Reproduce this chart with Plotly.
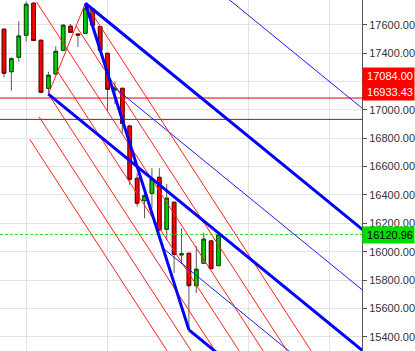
import plotly.graph_objects as go

# ---------------- data ----------------
bars = list(range(30))
opens = [17570, 17270, 17372, 17527, 17753, 17492, 17153, 17254, 17421, 17591,
         17536, 17541, 17711, 17588, 17400, 17141, 17153, 16887, 16518, 16360,
         16412, 16525, 16158, 16349, 15977, 15989, 15760, 15918, 16076, 15901]
highs = [17574, 17372, 17628, 17765, 17762, 17495, 17270, 17450, 17605, 17607,
         17541, 17753, 17720, 17593, 17403, 17200, 17156, 16894, 16553, 16459,
         16589, 16589, 16478, 16351, 16165, 15991, 16041, 16134, 16078, 16134]
lows = [17228, 17136, 17341, 17482, 17488, 17120, 17112, 17250, 17416, 17545,
        17443, 17538, 17592, 17416, 16993, 17040, 16836, 16471, 16318, 16236,
        16306, 16150, 16083, 15848, 15913, 15448, 15707, 15917, 15878, 15899]
closes = [17259, 17362, 17522, 17746, 17490, 17125, 17245, 17414, 17598, 17548,
          17529, 17718, 17598, 17421, 17146, 17153, 16906, 16511, 16342, 16395,
          16513, 16153, 16377, 15982, 15984, 15760, 15876, 16088, 15880, 16120.96]

level_lines = [17084.00, 16933.43]
last_price = 16120.96
y_ticks = [15400, 15600, 15800, 16000, 16200, 16400, 16600, 16800, 17000, 17200, 17400, 17600]
hidden_tick = 17200          # its label sits under the red price boxes
x_grid = [3, 14, 33, 44]

# pitchfork anchors (bar position, price)
red_anchors = [(4.4, 17762), (6, 17112), (11, 17753)]
blue_anchors = [(6, 17112), (11, 17753), (25, 15448)]
red_fracs = [-0.5, -0.25, 0.0, 0.25, 0.75, 1.0]
blue_thin_fracs = [-0.5, 0.25, 0.75]
blue_thick_fracs = [0.0, 1.0]

X_MIN, X_MAX = -0.54, 48.4
Y_MIN, Y_MAX = 15299, 17776


def fork_lines(anchors, fracs, x_end=70):
    a, b, c = anchors
    m = ((b[0] + c[0]) / 2, (b[1] + c[1]) / 2)
    slope = (m[1] - a[1]) / (m[0] - a[0])
    out = []
    for f in fracs:
        s = (b[0] + f * (c[0] - b[0]), b[1] + f * (c[1] - b[1]))
        out.append(([s[0], x_end], [s[1], s[1] + slope * (x_end - s[0])]))
    median = ([a[0], x_end], [a[1], a[1] + slope * (x_end - a[0])])
    seg = ([b[0], c[0]], [b[1], c[1]])
    return out, median, seg


fig = go.Figure()

# wicks
fig.add_trace(go.Candlestick(
    x=bars, open=opens, high=highs, low=lows, close=closes,
    increasing=dict(line=dict(color="#5a5a5a", width=1), fillcolor="#00cc00"),
    decreasing=dict(line=dict(color="#5a5a5a", width=1), fillcolor="#ff0000"),
    whiskerwidth=0, showlegend=False, hoverinfo="skip"))
# bodies with darker outline
body_hi = [max(o, c) for o, c in zip(opens, closes)]
body_lo = [min(o, c) for o, c in zip(opens, closes)]
fig.add_trace(go.Candlestick(
    x=bars, open=opens, high=body_hi, low=body_lo, close=closes,
    increasing=dict(line=dict(color="#0a4a0a", width=1), fillcolor="#00cc00"),
    decreasing=dict(line=dict(color="#6a0000", width=1), fillcolor="#ff0000"),
    whiskerwidth=0, showlegend=False, hoverinfo="skip"))

# horizontal level lines
for lv in level_lines:
    fig.add_trace(go.Scatter(x=[X_MIN, X_MAX], y=[lv, lv], mode="lines",
                             line=dict(color="#d40000", width=1), showlegend=False, hoverinfo="skip"))
fig.add_trace(go.Scatter(x=[X_MIN, X_MAX], y=[last_price, last_price], mode="lines",
                         line=dict(color="#33dd33", width=1, dash="3px,2px"),
                         showlegend=False, hoverinfo="skip"))

# red pitchfork
rl, rmed, rseg = fork_lines(red_anchors, red_fracs)
for xs, ys in rl + [rmed, rseg]:
    fig.add_trace(go.Scatter(x=xs, y=ys, mode="lines", line=dict(color="#ff2020", width=1),
                             showlegend=False, hoverinfo="skip"))

# blue pitchfork
bl_thin, bmed, bseg = fork_lines(blue_anchors, blue_thin_fracs)
bl_thick, _, _ = fork_lines(blue_anchors, blue_thick_fracs)
for xs, ys in bl_thin:
    fig.add_trace(go.Scatter(x=xs, y=ys, mode="lines", line=dict(color="#1a1aff", width=1),
                             showlegend=False, hoverinfo="skip"))
for xs, ys in bl_thick + [bmed, bseg]:
    fig.add_trace(go.Scatter(x=xs, y=ys, mode="lines", line=dict(color="#0000ff", width=3),
                             showlegend=False, hoverinfo="skip"))


# price labels on the axis
def price_label(val, bg, fg, shift):
    fig.add_annotation(x=1, xref="paper", xanchor="left", y=val, yref="y", yshift=shift,
                       text=f"{val:.2f}", showarrow=False, bgcolor=bg, width=49, height=14,
                       borderpad=1, align="right",
                       font=dict(family="Liberation Sans, Arial", size=11, color=fg))


price_label(level_lines[0], "#ff0000", "white", 22)
price_label(level_lines[1], "#ff0000", "white", 27.5)
price_label(last_price, "#00dd00", "black", 0)

tick_text = ["" if t == hidden_tick else f"{t:.2f}" for t in y_ticks]

fig.update_layout(
    width=415, height=351, margin=dict(l=0, r=53, t=0, b=0),
    paper_bgcolor="white", plot_bgcolor="white", boxmode="overlay",
    xaxis=dict(range=[X_MIN, X_MAX], rangeslider=dict(visible=False), showticklabels=False,
               tickvals=x_grid, showgrid=True, gridcolor="#e3e3e3", gridwidth=1,
               zeroline=False, showline=False, ticks=""),
    yaxis=dict(range=[Y_MIN, Y_MAX], side="right", tickvals=y_ticks, ticktext=tick_text,
               showgrid=True, gridcolor="#e3e3e3", gridwidth=1, zeroline=False,
               showline=True, linecolor="#555555", linewidth=1,
               ticks="outside", ticklen=4, tickcolor="#555555",
               tickfont=dict(family="Liberation Sans, Arial", size=11, color="#333333")),
)

fig.write_html("out.html")
